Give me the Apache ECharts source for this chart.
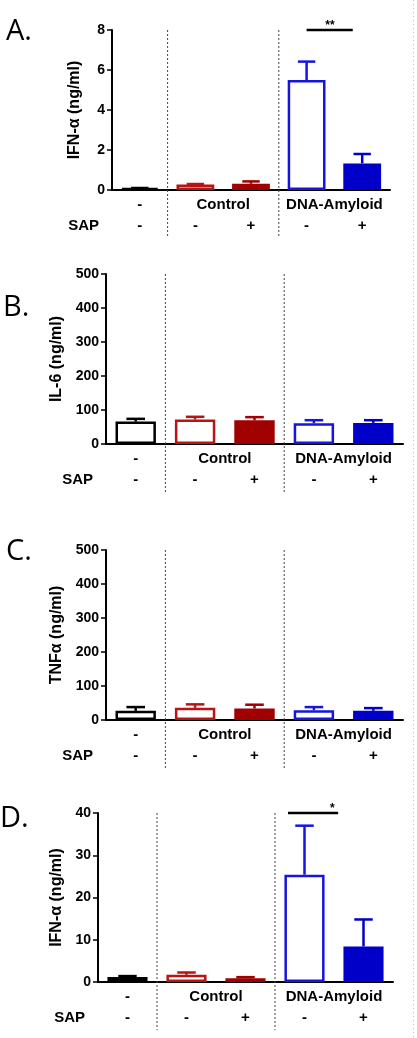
<!DOCTYPE html>
<html><head><meta charset="utf-8">
<script src="https://cdn.jsdelivr.net/npm/echarts@6/dist/echarts.min.js"></script>
<style>html,body{margin:0;padding:0;background:#fff}#c{width:417px;height:1038px}</style>
</head><body><div id="c"></div>
<script>
// ---- data ----
const categories = ['none', 'ctrl-SAP', 'ctrl+SAP', 'dna-SAP', 'dna+SAP'];
const groupLabels = ['-', 'Control', 'DNA-Amyloid'];
const groupCenters = [0, 1.5, 3.5];
const sapLabels = ['-', '-', '+', '-', '+'];
const separators = [0.5, 2.5];

const ifnA = [0.1, 0.27, 0.31, 5.5, 1.33];
const ifnAErr = [0.1, 0.3, 0.43, 6.42, 1.8];
const il6 = [66, 72, 70, 61, 62];
const il6Err = [74, 80, 79, 70, 70];
const tnf = [27, 36, 34, 29, 27];
const tnfErr = [38, 46, 45, 38, 35];
const ifnD = [1.2, 1.7, 0.9, 25.4, 8.4];
const ifnDErr = [1.4, 2.25, 1.15, 37, 14.8];

const ticksA = [0, 2, 4, 6, 8];
const ticksB = [0, 100, 200, 300, 400, 500];
const ticksC = [0, 100, 200, 300, 400, 500];
const ticksD = [0, 10, 20, 30, 40];

// significance: [fromCat, toCat, value, textCat]
const sigA = [3.0, 3.83, 8, 3.42];
const sigAText = '**';
const sigD = [2.72, 3.57, 40, 3.47];
const sigDText = '*';

const panelLetters = ['A.', 'B.', 'C.', 'D.'];
const yTitles = ['IFN-α (ng/ml)', 'IL-6 (ng/ml)', 'TNFα (ng/ml)', 'IFN-α (ng/ml)'];

// ---- styles ----
const lineColors = ['#000000', '#b81414', '#a00000', '#1515dd', '#0000c8'];
const filled = [false, false, true, false, true];
const FONT = '"Liberation Sans", Arial, sans-serif';

const grids = [
  {left: 112, top: 30, width: 278, height: 160},
  {left: 106, top: 274, width: 297, height: 170},
  {left: 106, top: 550, width: 297, height: 170},
  {left: 98, top: 813, width: 295, height: 169}
];
const nameGaps = [29, 34, 36, 30];
const letterPos = [[6, 34], [3, 310], [6, 554], [0, 821]];

const panels = [
  {m: ifnA, e: ifnAErr, t: ticksA, sig: sigA, sigText: sigAText},
  {m: il6, e: il6Err, t: ticksB},
  {m: tnf, e: tnfErr, t: ticksC},
  {m: ifnD, e: ifnDErr, t: ticksD, sig: sigD, sigText: sigDText}
];

const xAxes = [], yAxes = [], series = [];
panels.forEach((p, i) => {
  const yMax = p.t[p.t.length - 1];
  xAxes.push({
    type: 'category', gridIndex: i, data: categories,
    axisLine: {lineStyle: {color: '#000', width: 2}},
    axisTick: {alignWithLabel: true, length: 5, lineStyle: {color: '#000', width: 1.5}},
    axisLabel: {show: false}, splitLine: {show: false}
  });
  yAxes.push({
    type: 'value', gridIndex: i, min: p.t[0], max: yMax, interval: p.t[1] - p.t[0],
    axisLine: {show: true, lineStyle: {color: '#000', width: 2}},
    axisTick: {show: true, length: 5, lineStyle: {color: '#000', width: 1.5}},
    axisLabel: {margin: 7, color: '#000', fontSize: 14, fontWeight: 'bold', fontFamily: FONT},
    splitLine: {show: false},
    name: yTitles[i], nameLocation: 'middle', nameGap: nameGaps[i], nameRotate: 90,
    nameTextStyle: {color: '#000', fontSize: 16, fontWeight: 'bold', fontFamily: FONT}
  });
  series.push({
    type: 'bar', xAxisIndex: i, yAxisIndex: i, barWidth: '68%', z: 2,
    data: p.m.map((v, k) => ({
      value: v,
      itemStyle: {color: filled[k] ? lineColors[k] : '#ffffff', borderColor: lineColors[k], borderWidth: 2.5}
    }))
  });
  series.push({
    type: 'custom', xAxisIndex: i, yAxisIndex: i, z: 3, silent: true,
    data: p.m.map((v, k) => [k, v, p.e[k]]),
    renderItem(params, api) {
      const k = params.dataIndex;
      const c = lineColors[k];
      const p0 = api.coord([api.value(0), api.value(1)]);
      const p1 = api.coord([api.value(0), api.value(2)]);
      const hw = api.size([1, 0])[0] * 0.68 * 0.23;
      return {type: 'group', children: [
        {type: 'line', shape: {x1: p0[0], y1: p0[1], x2: p1[0], y2: p1[1]}, style: {stroke: c, lineWidth: 2.5}},
        {type: 'line', shape: {x1: p1[0] - hw, y1: p1[1], x2: p1[0] + hw, y2: p1[1]}, style: {stroke: c, lineWidth: 2.5}}
      ]};
    }
  });
  series.push({
    type: 'custom', xAxisIndex: i, yAxisIndex: i, z: 5, silent: true, clip: false,
    data: [[0, 0]],
    renderItem(params, api) {
      const band = api.size([1, 0])[0];
      const x0 = api.coord([0, 0])[0];
      const yBase = api.coord([0, 0])[1];
      const yTop = api.coord([0, yMax])[1];
      const X = q => x0 + q * band;
      const txt = (t, x, y, align) => ({type: 'text', x: x, y: y,
        style: {text: t, fill: '#000', fontSize: 15, fontWeight: 'bold', fontFamily: FONT, align: align || 'center', verticalAlign: 'middle'}});
      const ch = [];
      separators.forEach(q => ch.push({type: 'line', shape: {x1: X(q), y1: yTop, x2: X(q), y2: yBase + 48},
        style: {stroke: '#444', lineWidth: 1, lineDash: [2, 2]}}));
      groupLabels.forEach((t, k) => ch.push(txt(t, X(groupCenters[k]), yBase + 15)));
      sapLabels.forEach((t, k) => ch.push(txt(t, X(k), yBase + 36)));
      ch.push(txt('SAP', x0 - band / 2 - 13, yBase + 36, 'right'));
      if (p.sig) {
        const ys = api.coord([0, p.sig[2]])[1];
        ch.push({type: 'line', shape: {x1: X(p.sig[0]), y1: ys, x2: X(p.sig[1]), y2: ys}, style: {stroke: '#000', lineWidth: 2.5}});
        ch.push({type: 'text', x: X(p.sig[3]), y: ys - 4,
          style: {text: p.sigText, fill: '#000', fontSize: 12, fontWeight: 'bold', fontFamily: FONT, align: 'center', verticalAlign: 'middle'}});
      }
      return {type: 'group', children: ch};
    }
  });
});

const graphic = panelLetters.map((t, i) => ({
  type: 'text', left: letterPos[i][0], top: letterPos[i][1] - 17,
  style: {text: t, fill: '#000', fontSize: 29, fontFamily: '"Open Sans", sans-serif'}
}));
graphic.push({type: 'line', shape: {x1: 413.5, y1: 0, x2: 413.5, y2: 1038},
  style: {stroke: '#cfc6a0', lineWidth: 1, lineDash: [1, 3]}});

const chart = echarts.init(document.getElementById('c'), null, {renderer: 'canvas'});
chart.setOption({
  animation: false,
  backgroundColor: '#ffffff',
  grid: grids,
  xAxis: xAxes,
  yAxis: yAxes,
  series: series,
  graphic: graphic
});
</script></body></html>
